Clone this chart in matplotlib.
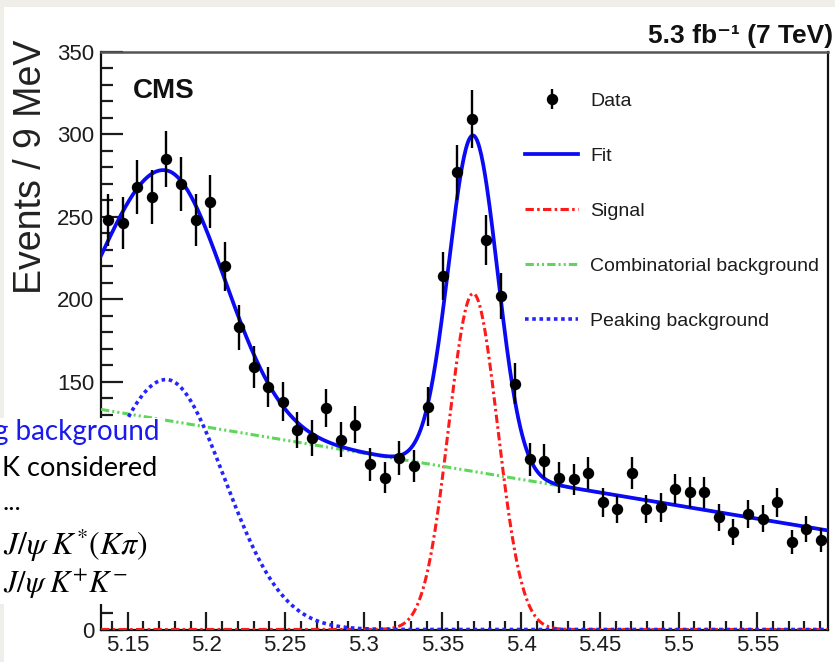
import numpy as np
import matplotlib
matplotlib.use('Agg')
import matplotlib.pyplot as plt
from matplotlib.patches import Rectangle
from matplotlib.ticker import MultipleLocator, FormatStrFormatter

# mass window and binning
m_lo, m_hi = 5.133, 5.595
n_bins = 50

# events per bin
counts = [248, 246, 268, 262, 285, 270, 248, 259, 220, 183,
          159, 147, 138, 121, 116, 134, 115, 124, 100, 92,
          104, 99, 135, 214, 277, 309, 236, 202, 149, 103,
          102, 92, 91, 95, 77, 73, 95, 73, 74, 85,
          83, 83, 68, 59, 70, 67, 77, 53, 61, 54]

# fit components
comb_at_lo = 133.3      # combinatorial background at m_lo
comb_slope = -158.7     # per GeV
peak_amp, peak_mean = 151.4, 5.1744
peak_sig_l, peak_sig_r = 0.042, 0.037
sig_amp, sig_mean, sig_sigma = 203.5, 5.3695, 0.0155

legend_labels = ['Data', 'Fit', 'Signal', 'Combinatorial background', 'Peaking background']
note_lines = ['g background', 'K considered', '...',
              r'$J/\psi\;K^{*}(K\pi)$', r'$J/\psi\;K^{+}K^{-}$']

plt.rcParams['font.family'] = ['Liberation Sans', 'DejaVu Sans']
plt.rcParams['mathtext.fontset'] = 'stix'
plt.rcParams['lines.scale_dashes'] = False

W, H = 835, 662
def fx(px): return px / W
def fy(py): return 1 - py / H

fig = plt.figure(figsize=(W / 100, H / 100), dpi=100)
fig.patch.set_facecolor('#efeee8')
fig.add_artist(Rectangle((fx(4), 0), 1, fy(7), transform=fig.transFigure,
                         facecolor='white', edgecolor='none', zorder=-10))

ax = fig.add_axes([fx(101), fy(629.5), fx(828) - fx(101), fy(51.7) - fy(629.5)])

edges = np.linspace(m_lo, m_hi, n_bins + 1)
centers = 0.5 * (edges[:-1] + edges[1:])
counts = np.array(counts, dtype=float)

x = np.linspace(m_lo, m_hi, 800)
comb = comb_at_lo + comb_slope * (x - m_lo)
sl = np.where(x < peak_mean, peak_sig_l, peak_sig_r)
peaking = peak_amp * np.exp(-0.5 * ((x - peak_mean) / sl) ** 2)
signal = sig_amp * np.exp(-0.5 * ((x - sig_mean) / sig_sigma) ** 2)
fit = comb + peaking + signal

l_sig, = ax.plot(x, signal, color='#ff1a1a', lw=2.2, dashes=(6, 2.4, 1.8, 2.4), zorder=3)
l_comb, = ax.plot(x, comb, color='#5ed65a', lw=2.2, dashes=(6, 2.2, 1.5, 2.2, 1.5, 2.2), zorder=3)
l_peak, = ax.plot(x, peaking, color='#2424ff', lw=2.6, dashes=(2.6, 2.6), zorder=3)
l_fit, = ax.plot(x, fit, color='#0a0af5', lw=2.7, zorder=4)
data = ax.errorbar(centers, counts, yerr=np.sqrt(counts), fmt='o', color='black',
                   ms=7.2, elinewidth=1.7, capsize=0, zorder=5)

ax.set_xlim(m_lo, m_hi)
ax.set_ylim(0, 350)
ax.xaxis.set_major_locator(MultipleLocator(0.05))
ax.xaxis.set_minor_locator(MultipleLocator(0.01))
ax.xaxis.set_major_formatter(FormatStrFormatter('%g'))
ax.yaxis.set_major_locator(MultipleLocator(50))
ax.yaxis.set_minor_locator(MultipleLocator(10))

tick_col = '#1c1c1c'
ax.tick_params(which='both', direction='in', top=False, right=False,
               colors=tick_col, labelcolor=tick_col, width=1.6, labelsize=16)
ax.tick_params(axis='x', which='major', length=13, pad=4)
ax.tick_params(axis='x', which='minor', length=6.5)
ax.tick_params(axis='y', which='major', length=16, pad=5)
ax.tick_params(axis='y', which='minor', length=8.5)
for side in ['left', 'bottom', 'right']:
    ax.spines[side].set_linewidth(1.6)
    ax.spines[side].set_color('#111111')
ax.spines['top'].set_linewidth(1.8)
ax.spines['top'].set_color('#555555')

ax.set_ylabel('Events / 9 MeV', fontsize=27, color='#222222',
              ha='center', va='top', rotation_mode='default')
ax.yaxis.set_label_coords(-0.0963, 1.0203)

ax.text(fx(133), fy(98), 'CMS', transform=fig.transFigure, fontsize=20,
        fontweight='bold', color='#111111', ha='left', va='baseline')
fig.text(fx(833), fy(43), '5.3 fb\u207b\u00b9 (7 TeV)', fontsize=19,
         fontweight='bold', color='#111111', ha='right', va='baseline')

handles = [data, l_fit, l_sig, l_comb, l_peak]
fs = 14
fpx = fs * 100 / 72
ax.legend(handles, legend_labels, loc='upper left', frameon=False,
          bbox_to_anchor=(fx(525), fy(92)), bbox_transform=fig.transFigure,
          fontsize=fs, borderpad=0, borderaxespad=0, handlelength=53 / fpx,
          handletextpad=12 / fpx, labelspacing=1.93, labelcolor='#1c1c1c')

# note box pasted over the lower left corner
fig.add_artist(Rectangle((0, fy(604)), fx(163), fy(418) - fy(604),
                         transform=fig.transFigure, facecolor='white',
                         edgecolor='none', zorder=10))
calibri_like = ['Lato', 'DejaVu Sans']
fig.text(fx(160), fy(440), note_lines[0], color='#1a1aee', fontsize=20,
         family=calibri_like, ha='right', va='baseline', zorder=11)
fig.text(fx(2), fy(476), note_lines[1], color='black', fontsize=19.5,
         family=calibri_like, ha='left', va='baseline', zorder=11)
fig.text(fx(3), fy(510), note_lines[2], color='black', fontsize=19,
         family=calibri_like, ha='left', va='baseline', zorder=11)
fig.text(fx(3), fy(555), note_lines[3], color='black', fontsize=23,
         ha='left', va='baseline', zorder=11)
fig.text(fx(3), fy(593), note_lines[4], color='black', fontsize=22,
         ha='left', va='baseline', zorder=11)

fig.savefig('out.png', dpi=100, facecolor=fig.get_facecolor())
